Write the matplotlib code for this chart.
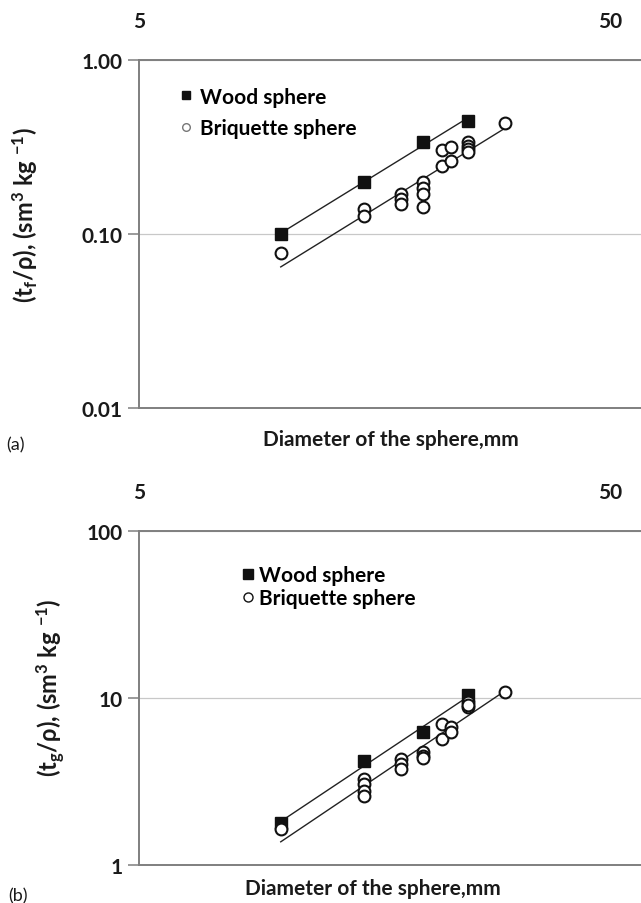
import numpy as np
import matplotlib.pyplot as plt
from matplotlib.lines import Line2D

plt.rcParams['font.family'] = ['Lato', 'DejaVu Sans']

# ---- data ---------------------------------------------------------
wood_d = [10, 15, 20, 25]
brq_d = [10, 15, 15, 18, 18, 18, 20, 20, 20, 20, 22, 22, 23, 23, 25, 25, 25, 25, 30]

# panel (a): t_f / rho
wood_tf = [0.100, 0.201, 0.341, 0.449]
brq_tf = [0.078, 0.140, 0.127, 0.171, 0.160, 0.150, 0.200, 0.184, 0.171, 0.143,
          0.307, 0.248, 0.319, 0.265, 0.338, 0.322, 0.310, 0.298, 0.437]

# panel (b): t_g / rho
wood_tg = [1.78, 4.20, 6.28, 10.4]
brq_tg = [1.64, 3.27, 3.05, 2.79, 2.60, 4.31, 4.02, 3.76, 4.73, 4.51, 4.35,
          6.99, 5.68, 6.68, 6.29, 9.42, 8.79, 9.10, 10.8]
brq_tg_d = [10, 15, 15, 15, 15, 18, 18, 18, 20, 20, 20, 22, 22, 23, 23, 25, 25, 25, 30]

AX_GREY = '#7f7f7f'
TXT = '#1a1a1a'


def power_fit(x, y):
    b, a = np.polyfit(np.log10(x), np.log10(y), 1)
    xs = np.array([min(x), max(x)], dtype=float)
    return xs, 10 ** (a + b * np.log10(xs))


def style(ax, ylim, yticks, ylabels):
    ax.set_xscale('log')
    ax.set_yscale('log')
    ax.set_xlim(5, 58.2)
    ax.set_ylim(*ylim)
    ax.xaxis.set_ticks_position('top')
    ax.set_xticks([5, 50], labels=['5', '50'])
    ax.xaxis.set_minor_locator(plt.NullLocator())
    ax.tick_params(axis='x', length=0, pad=21, labelsize=15, labelcolor=TXT)
    ax.set_yticks(yticks, labels=ylabels)
    ax.yaxis.set_minor_locator(plt.NullLocator())
    ax.tick_params(axis='y', length=8, width=1.1, color=AX_GREY, pad=4,
                   labelsize=15, labelcolor=TXT)
    for lbl in ax.get_xticklabels() + ax.get_yticklabels():
        lbl.set_fontweight('bold')
    ax.spines['right'].set_visible(False)
    for s in ('top', 'bottom', 'left'):
        ax.spines[s].set_color(AX_GREY)
        ax.spines[s].set_linewidth(1.4)
    ax.grid(axis='y', which='major', color='#c8c8c8', lw=0.9)
    ax.set_axisbelow(True)


fig = plt.figure(figsize=(6.41, 9.04), dpi=100)
ax1 = fig.add_axes([0.2168, 0.5472, 0.7832, 0.3848])
ax2 = fig.add_axes([0.2168, 0.0420, 0.7832, 0.3695])

# ---- panel (a) ----
style(ax1, (0.01, 1.0), [0.01, 0.1, 1.0], ['0.01', '0.10', '1.00'])
for x, y in (power_fit(wood_d, wood_tf), power_fit(brq_d, brq_tf)):
    ax1.plot(x, y, color='#222222', lw=1.0, zorder=2)
ax1.plot(wood_d, wood_tf, 's', ms=8, color='#111111', zorder=3)
ax1.plot(brq_d, brq_tf, 'o', ms=8.5, mfc='white', mec='#111111', mew=1.5,
         zorder=3)
h1 = [Line2D([], [], ls='', marker='s', ms=5.5, color='#111111'),
      Line2D([], [], ls='', marker='o', ms=5.5, mfc='white', mec='#777777',
             mew=1.0)]
ax1.legend(h1, ['Wood sphere', 'Briquette sphere'], loc='upper left',
           bbox_to_anchor=(0.082, 0.925), frameon=False, borderpad=0,
           borderaxespad=0, handlelength=0.55, handletextpad=0.4,
           labelspacing=0.55, prop={'size': 15, 'weight': 'bold'})

# ---- panel (b) ----
style(ax2, (1, 100), [1, 10, 100], ['1', '10', '100'])
for x, y in (power_fit(wood_d, wood_tg), power_fit(brq_tg_d, brq_tg)):
    ax2.plot(x, y, color='#222222', lw=1.0, zorder=2)
ax2.plot(wood_d, wood_tg, 's', ms=8, color='#111111', zorder=3)
ax2.plot(brq_tg_d, brq_tg, 'o', ms=8.5, mfc='white', mec='#111111', mew=1.5,
         zorder=3)
h2 = [Line2D([], [], ls='', marker='s', ms=6.5, color='#111111'),
      Line2D([], [], ls='', marker='o', ms=6.5, mfc='white', mec='#111111',
             mew=1.0)]
ax2.legend(h2, ['Wood sphere', 'Briquette sphere'], loc='upper left',
           bbox_to_anchor=(0.205, 0.898), frameon=False, borderpad=0,
           borderaxespad=0, handlelength=0.55, handletextpad=0.25,
           labelspacing=0.15, prop={'size': 15, 'weight': 'bold'})

# ---- axis titles and panel letters (placed in figure pixels) ----
H = 904.0
ylab_a = r'(t$\mathregular{_f}$/ρ), (sm$\mathregular{^3}$ kg $\mathregular{^{-1}}$)'
ylab_b = r'(t$\mathregular{_g}$/ρ), (sm$\mathregular{^3}$ kg $\mathregular{^{-1}}$)'
fig.text(25 / 641, 1 - 215 / H, ylab_a, rotation=90, ha='center', va='center',
         fontsize=17, fontweight='bold', color=TXT)
fig.text(51 / 641, 1 - 688 / H, ylab_b, rotation=90, ha='center', va='center',
         fontsize=17, fontweight='bold', color=TXT)
fig.text(391 / 641, 1 - 440 / H, 'Diameter of the sphere,mm', ha='center',
         va='center', fontsize=15, fontweight='bold', color=TXT)
fig.text(373 / 641, 1 - 889 / H, 'Diameter of the sphere,mm', ha='center',
         va='center', fontsize=15, fontweight='bold', color=TXT)
fig.text(6 / 641, 1 - 445 / H, '(a)', ha='left', va='center', fontsize=13,
         color=TXT)
fig.text(8 / 641, 1 - 896 / H, '(b)', ha='left', va='center', fontsize=13,
         color=TXT)

fig.savefig('out.png', dpi=100)
